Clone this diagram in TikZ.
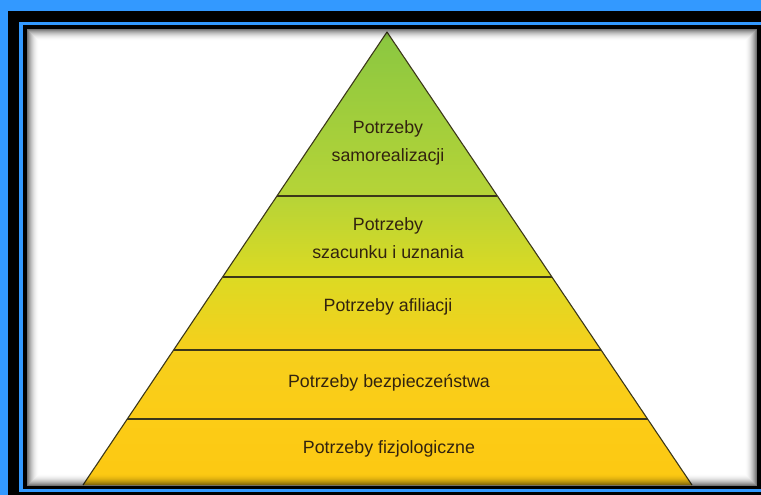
\documentclass[tikz,border=0pt]{standalone}
\usepackage{fontspec}
\setmainfont{Liberation Sans}
\usetikzlibrary{calc}
\definecolor{bblue}{RGB}{51,153,255}
\definecolor{edge}{RGB}{60,55,25}
\definecolor{txt}{RGB}{50,35,15}
\definecolor{c0}{RGB}{138,199,65}
\definecolor{c1}{RGB}{182,212,55}
\definecolor{c2}{RGB}{220,218,35}
\definecolor{c3}{RGB}{246,207,28}
\definecolor{c4}{RGB}{252,204,22}
\definecolor{c5}{RGB}{252,200,18}
\tikzset{
  band/.style={shading=axis},
  sep/.style={draw=edge, line width=1.1pt},
  lbl/.style={text=txt, font=\fontsize{17.8}{28}\selectfont, align=center, inner sep=0pt}
}
\begin{document}
\begin{tikzpicture}[x=1pt,y=-1pt]
\useasboundingbox (0,0) rectangle (761,495);
% frame
\fill[bblue] (0,0) rectangle (761,495);
\fill[black] (8,11) rectangle (761,495);
\fill[bblue] (19,22) rectangle (761,492);
\fill[black] (23,25) rectangle (761,489);
\fill[white] (27,29) rectangle (757,486);
% pyramid corners
\coordinate (A) at (387,32);
\coordinate (BL) at (83,485);
\coordinate (BR) at (692,485);
\coordinate (L1) at ($(A)!0.362!(BL)$);  \coordinate (R1) at ($(A)!0.362!(BR)$);
\coordinate (L2) at ($(A)!0.5408!(BL)$); \coordinate (R2) at ($(A)!0.5408!(BR)$);
\coordinate (L3) at ($(A)!0.702!(BL)$);  \coordinate (R3) at ($(A)!0.702!(BR)$);
\coordinate (L4) at ($(A)!0.8543!(BL)$); \coordinate (R4) at ($(A)!0.8543!(BR)$);
% bands
\path[band, top color=c0, bottom color=c1] (A) -- (R1) -- (L1) -- cycle;
\path[band, top color=c1, bottom color=c2] (L1) -- (R1) -- (R2) -- (L2) -- cycle;
\path[band, top color=c2, bottom color=c3] (L2) -- (R2) -- (R3) -- (L3) -- cycle;
\path[band, top color=c3, bottom color=c4] (L3) -- (R3) -- (R4) -- (L4) -- cycle;
\path[band, top color=c4, bottom color=c5] (L4) -- (R4) -- (BR) -- (BL) -- cycle;
% outlines
\draw[sep, line join=round] (BL) -- (A) -- (BR);
\draw[sep] (L1) -- (R1);
\draw[sep] (L2) -- (R2);
\draw[sep] (L3) -- (R3);
\draw[sep] (L4) -- (R4);
% inner shadow of the panel
\foreach \i in {0,...,11}{
  \pgfmathsetmacro\op{0.55*(1-\i/12)^2}
  \draw[black, opacity=\op, line width=1pt] (27.5+\i,29.5+\i) rectangle (756.5-\i,485.5-\i);
}
% labels
\node[lbl] (t1) at (388,143) {Potrzeby\\samorealizacji};
\node[lbl] (t2) at (388,238) {Potrzeby\\szacunku i uznania};
\node[lbl] (t3) at (388,307) {Potrzeby afiliacji};
\node[lbl] (t4) at (389,383) {Potrzeby bezpieczeństwa};
\node[lbl] (t5) at (389,449) {Potrzeby fizjologiczne};
\end{tikzpicture}
\end{document}
